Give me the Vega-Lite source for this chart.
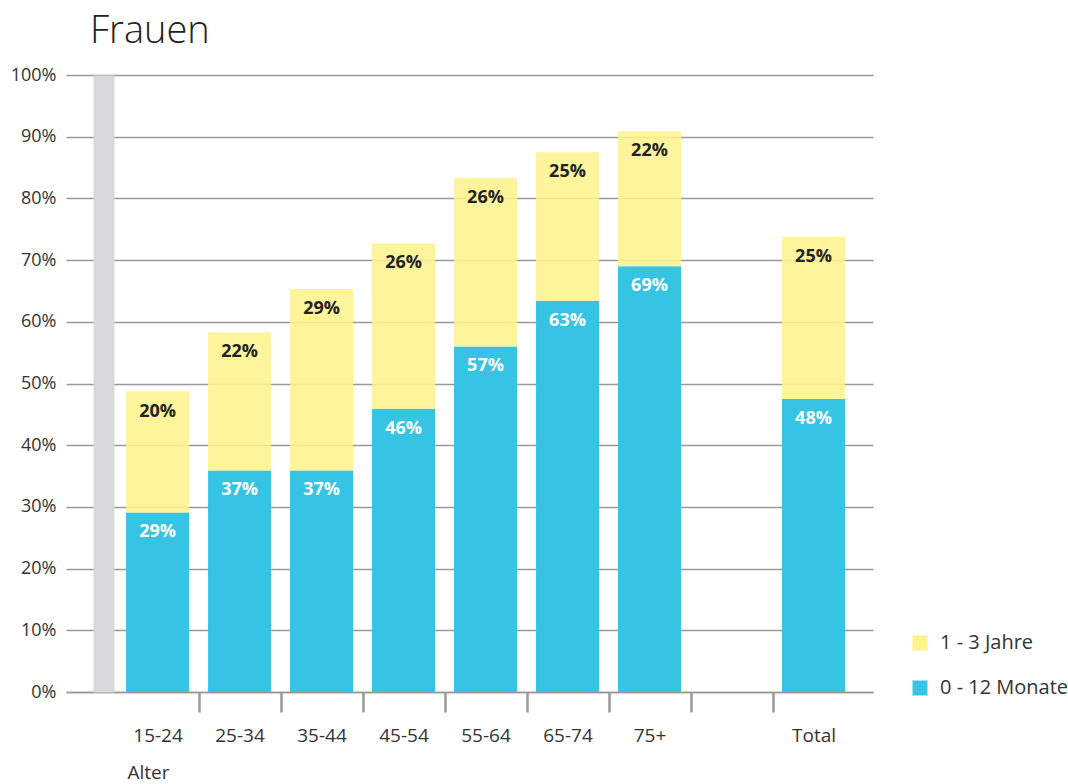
{
  "$schema": "https://vega.github.io/schema/vega-lite/v6.json",
  "width": 807,
  "height": 617,
  "autosize": {"type": "none"},
  "padding": {"left": 66, "top": 75, "right": 195, "bottom": 92},
  "title": {
    "text": "Frauen",
    "anchor": "start",
    "frame": "group",
    "dx": 24,
    "dy": 48,
    "fontSize": 38,
    "font": "Open Sans",
    "fontWeight": 300,
    "color": "#222222",
    "baseline": "alphabetic",
    "offset": 33
  },
  "config": {"view": {"stroke": null}, "font": "Open Sans"},
  "data": {
    "values": [
      {"Alter": "15-24", "Dauer": "0 - 12 Monate", "value": 29.1, "label": "29%"},
      {"Alter": "15-24", "Dauer": "1 - 3 Jahre", "value": 19.6, "label": "20%"},
      {"Alter": "25-34", "Dauer": "0 - 12 Monate", "value": 35.9, "label": "37%"},
      {"Alter": "25-34", "Dauer": "1 - 3 Jahre", "value": 22.4, "label": "22%"},
      {"Alter": "35-44", "Dauer": "0 - 12 Monate", "value": 35.9, "label": "37%"},
      {"Alter": "35-44", "Dauer": "1 - 3 Jahre", "value": 29.4, "label": "29%"},
      {"Alter": "45-54", "Dauer": "0 - 12 Monate", "value": 45.9, "label": "46%"},
      {"Alter": "45-54", "Dauer": "1 - 3 Jahre", "value": 26.8, "label": "26%"},
      {"Alter": "55-64", "Dauer": "0 - 12 Monate", "value": 56.0, "label": "57%"},
      {"Alter": "55-64", "Dauer": "1 - 3 Jahre", "value": 27.3, "label": "26%"},
      {"Alter": "65-74", "Dauer": "0 - 12 Monate", "value": 63.4, "label": "63%"},
      {"Alter": "65-74", "Dauer": "1 - 3 Jahre", "value": 24.1, "label": "25%"},
      {"Alter": "75+", "Dauer": "0 - 12 Monate", "value": 69.0, "label": "69%"},
      {"Alter": "75+", "Dauer": "1 - 3 Jahre", "value": 21.9, "label": "22%"},
      {"Alter": "Total", "Dauer": "0 - 12 Monate", "value": 47.5, "label": "48%"},
      {"Alter": "Total", "Dauer": "1 - 3 Jahre", "value": 26.3, "label": "25%"}
    ]
  },
  "transform": [
    {"stack": "value", "groupby": ["Alter"], "sort": [{"field": "Dauer", "order": "ascending"}], "as": ["v0", "v1"]}
  ],
  "encoding": {
    "x": {
      "field": "Alter",
      "type": "nominal",
      "scale": {
        "domain": ["15-24", "25-34", "35-44", "45-54", "55-64", "65-74", "75+", " ", "Total"],
        "paddingInner": 0.232,
        "paddingOuter": 0.537,
        "align": 0.682
      },
      "axis": {
        "title": "Alter",
        "titleX": 61,
        "titleY": 86,
        "titleAlign": "left",
        "titleAnchor": "start",
        "titleBaseline": "alphabetic",
        "titleFontSize": 19,
        "titleFontWeight": "normal",
        "titleColor": "#333333",
        "titleFont": "Open Sans",
        "labelAngle": 0,
        "labelFontSize": 19,
        "labelColor": "#333333",
        "labelFont": "Open Sans",
        "labelPadding": 14,
        "tickSize": 20,
        "tickWidth": 2.5,
        "tickColor": "#999999",
        "bandPosition": 0,
        "tickOffset": -9.5,
        "labelOffset": 9.5,
        "tickOpacity": {"condition": {"test": "datum.value === '15-24'", "value": 0}, "value": 1},
        "domainColor": "#999999",
        "domainWidth": 1.5,
        "grid": false
      }
    }
  },
  "resolve": {"axis": {"y": "independent"}},
  "layer": [
    {
      "mark": {"type": "bar"},
      "encoding": {
        "y": {
          "field": "v1",
          "type": "quantitative",
          "scale": {"domain": [0, 100], "nice": false},
          "axis": {
            "title": null,
            "values": [0, 10, 20, 30, 40, 50, 60, 70, 80, 90, 100],
            "labelExpr": "datum.value + '%'",
            "labelFontSize": 18,
            "labelColor": "#333333",
            "labelFont": "Open Sans",
            "ticks": false,
            "tickSize": 0,
            "labelPadding": 47.5,
            "offset": -37.5,
            "domainWidth": 21,
            "domainColor": "#d8d9db",
            "grid": false
          }
        },
        "y2": {"field": "v0"},
        "color": {
          "field": "Dauer",
          "type": "nominal",
          "scale": {"domain": ["1 - 3 Jahre", "0 - 12 Monate"], "range": ["#fdf38e", "#35c4e4"]},
          "legend": {
            "title": null,
            "orient": "none",
            "legendX": 844,
            "legendY": 558,
            "symbolType": "square",
            "symbolSize": 225,
            "symbolStrokeWidth": 0,
            "labelFontSize": 20,
            "labelColor": "#333333",
            "labelFont": "Open Sans",
            "labelOffset": 10,
            "rowPadding": 25,
            "padding": 0
          }
        },
        "opacity": {"condition": {"test": "datum.Dauer === '1 - 3 Jahre'", "value": 0.88}, "value": 1}
      }
    },
    {
      "mark": {"type": "text", "baseline": "middle", "dy": 20, "fontWeight": "bold", "fontSize": 18, "font": "Open Sans"},
      "encoding": {
        "y": {
          "field": "v1",
          "type": "quantitative",
          "axis": {
            "orient": "left",
            "title": null,
            "values": [0, 10, 20, 30, 40, 50, 60, 70, 80, 90, 100],
            "labels": false,
            "ticks": false,
            "domain": false,
            "grid": true,
            "gridColor": "#999999",
            "gridWidth": 1.5
          }
        },
        "text": {"field": "label"},
        "color": {"condition": {"test": "datum.Dauer === '0 - 12 Monate'", "value": "#ffffff"}, "value": "#222222"}
      }
    }
  ]
}
